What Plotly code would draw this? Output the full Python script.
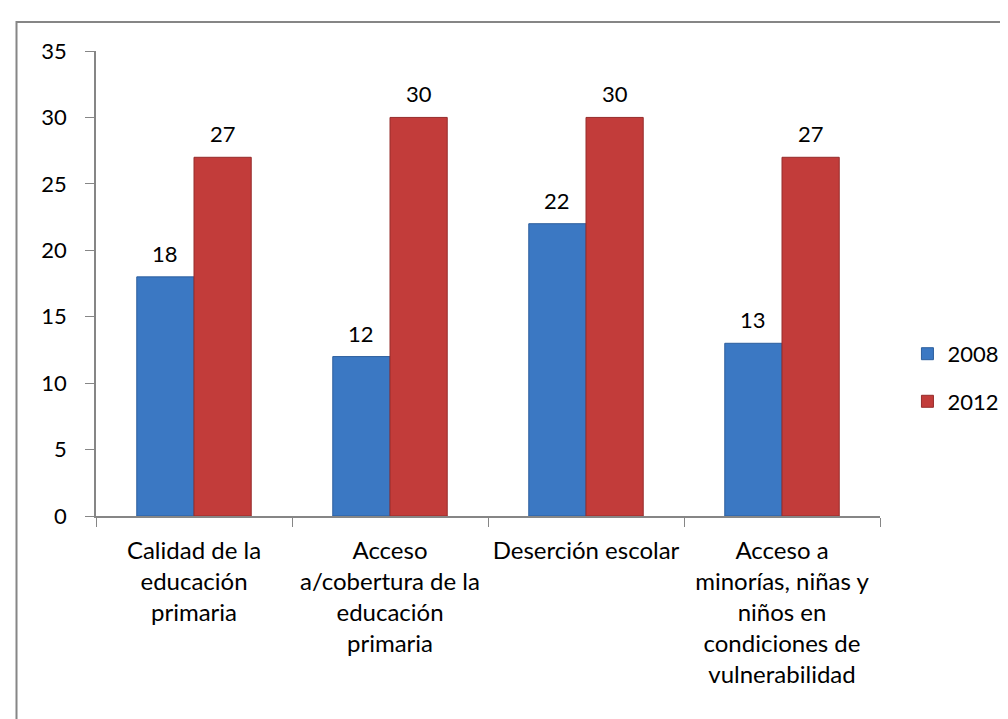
import plotly.graph_objects as go

categories = [
    "Calidad de la<br>educación<br>primaria",
    "Acceso<br>a/cobertura de la<br>educación<br>primaria",
    "Deserción escolar",
    "Acceso a<br>minorías, niñas y<br>niños en<br>condiciones de<br>vulnerabilidad",
]
series_names = ["2008", "2012"]
values_2008 = [18, 12, 22, 13]
values_2012 = [27, 30, 30, 27]

FONT = "Lato, Open Sans, sans-serif"
BLUE = "#3b78c3"
RED = "#c23c3a"
GAP = 0.416

fig = go.Figure()
fig.add_trace(go.Bar(
    x=categories, y=values_2008, name=series_names[0], legendgroup="a",
    marker=dict(color=BLUE, line=dict(color="#2d5f9e", width=1)),
))
fig.add_trace(go.Bar(
    x=categories, y=values_2012, name=series_names[1], legendgroup="b",
    marker=dict(color=RED, line=dict(color="#962c2b", width=1)),
))

# value labels above each bar
half = (1 - GAP) / 4
for i, (a, b) in enumerate(zip(values_2008, values_2012)):
    for off, v in ((-half, a), (half, b)):
        fig.add_annotation(x=i + off, y=v, text=str(v), showarrow=False,
                           yanchor="bottom", yshift=8,
                           font=dict(family=FONT, size=22, color="black"))

# outer chart border (runs off the right and bottom edges)
fig.add_shape(type="rect", xref="paper", yref="paper",
              x0=-0.1014, x1=1.17, y0=-0.47, y1=1.0624,
              line=dict(color="#868686", width=2), layer="below")

fig.update_layout(
    width=1008, height=719,
    margin=dict(l=88, r=131, t=43, b=211),
    paper_bgcolor="white", plot_bgcolor="white",
    barmode="group", bargap=GAP, bargroupgap=0,
    font=dict(family=FONT, size=22, color="black"),
    legend=dict(x=1.035, y=0.297, xanchor="left", yanchor="middle",
                traceorder="grouped", tracegroupgap=16,
                font=dict(size=22)),
    xaxis=dict(showline=True, linecolor="#868686", linewidth=1.5,
               ticks="outside", ticklen=9, tickcolor="#868686",
               tickson="boundaries", ticklabelstandoff=12,
               tickfont=dict(size=24),
               automargin=False, showgrid=False),
    yaxis=dict(range=[0, 35], dtick=5, showline=True, linecolor="#868686",
               linewidth=1.5, ticks="outside", ticklen=9, tickcolor="#868686",
               ticklabelstandoff=14, showgrid=False, zeroline=False,
               automargin=False),
)

fig.write_html("out.html")
